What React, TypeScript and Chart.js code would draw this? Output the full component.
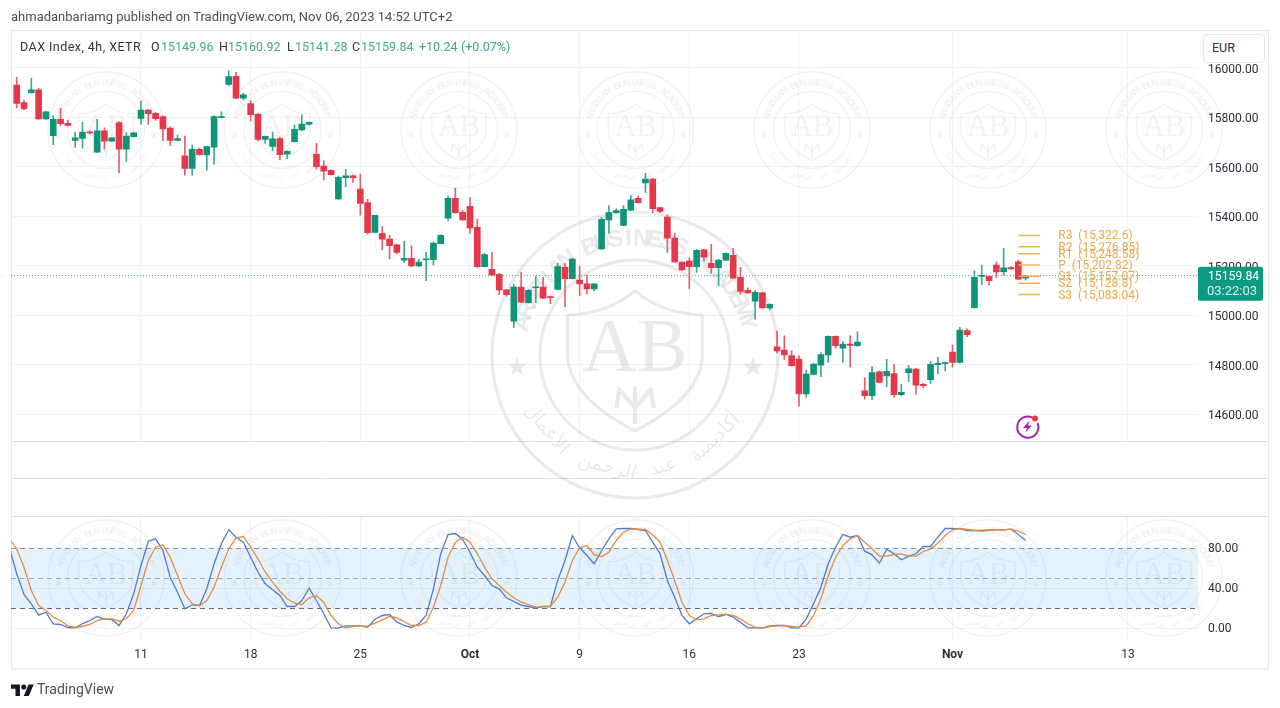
import React, { useEffect, useRef } from "react";
import { Chart, registerables } from "chart.js";

Chart.register(...registerables);

const opens = [15931,15860,15900,15912,15794,15726,15792,15776,15707,15715,15742,15659,15746,15704,15779,15672,15722,15796,15830,15817,15803,15757,15707,15645,15594,15671,15648,15680,15799,15934,15966,15878,15856,15812,15711,15683,15714,15651,15702,15749,15773,15651,15603,15586,15470,15556,15564,15510,15455,15335,15330,15308,15284,15222,15230,15199,15224,15224,15289,15392,15473,15416,15440,15355,15196,15185,15165,15102,14976,15114,15050,15111,15114,15073,15104,15193,15148,15142,15127,15106,15268,15385,15415,15363,15425,15473,15535,15551,15435,15397,15312,15215,15219,15196,15264,15210,15192,15222,15242,15153,15100,15057,15090,15029,14872,14859,14836,14822,14681,14760,14798,14839,14914,14866,14883,14876,14694,14674,14771,14754,14764,14678,14767,14782,14720,14739,14800,14804,14851,14809,14938,15030,15157,15157,15203,15176,15192,15216,15149.96];
const highs = [15962,15870,15958,15918,15825,15806,15837,15789,15740,15780,15746,15792,15758,15719,15783,15738,15740,15866,15833,15821,15806,15763,15729,15725,15688,15676,15684,15806,15823,15988,15982,15897,15868,15816,15725,15741,15719,15665,15769,15810,15781,15695,15624,15588,15563,15590,15568,15571,15469,15405,15358,15323,15287,15299,15280,15226,15254,15296,15325,15482,15514,15423,15475,15389,15250,15254,15169,15104,15125,15173,15104,15158,15153,15077,15210,15210,15230,15197,15162,15128,15396,15443,15430,15443,15485,15482,15574,15554,15436,15405,15331,15216,15232,15266,15266,15287,15226,15251,15269,15193,15111,15099,15092,15046,14936,14916,14856,14836,14778,14804,14849,14916,14916,14893,14916,14932,14747,14792,14775,14821,14801,14720,14797,14784,14724,14812,14829,14810,14879,14951,14945,15179,15203,15158,15216,15270,15196,15223,15160.92];
const lows = [15839,15830,15898,15792,15792,15690,15767,15765,15679,15676,15733,15657,15673,15702,15576,15622,15720,15772,15772,15788,15707,15686,15705,15566,15566,15647,15587,15611,15798,15927,15876,15872,15785,15706,15695,15664,15629,15633,15700,15746,15768,15591,15547,15566,15468,15520,15537,15405,15328,15333,15264,15227,15249,15212,15196,15196,15139,15203,15288,15382,15413,15384,15331,15193,15195,15160,15083,15077,14949,15050,15048,15050,15067,15046,15102,15034,15147,15079,15086,15098,15266,15332,15413,15362,15423,15453,15496,15415,15415,15254,15213,15181,15106,15173,15218,15170,15118,15220,15149,15084,15088,14984,15028,15021,14847,14821,14794,14632,14667,14758,14751,14809,14866,14810,14791,14874,14660,14658,14726,14711,14667,14674,14731,14680,14706,14724,14763,14774,14789,14807,14913,15028,15123,15123,15152,15162,15185,15144,15141.28];
const closes = [15857,15835,15912,15794,15823,15792,15775,15768,15717,15741,15737,15746,15704,15717,15672,15725,15738,15830,15815,15795,15753,15707,15714,15594,15671,15649,15682,15803,15802,15965,15878,15891,15811,15711,15723,15713,15649,15663,15752,15773,15780,15601,15583,15568,15558,15564,15556,15452,15334,15404,15307,15281,15254,15230,15199,15215,15227,15292,15323,15473,15415,15385,15353,15196,15245,15162,15102,15083,15114,15052,15100,15113,15069,15071,15196,15148,15227,15126,15106,15127,15388,15415,15423,15428,15467,15455,15551,15431,15420,15311,15215,15183,15196,15262,15235,15192,15222,15250,15150,15096,15090,15092,15029,15044,14855,14839,14796,14681,14762,14802,14840,14914,14876,14883,14878,14891,14674,14768,14728,14773,14678,14688,14783,14717,14715,14801,14805,14808,14809,14940,14921,15153,15158,15139,15175,15191,15187,15146,15159.84];

// Stochastic RSI, one value per bar; the first value belongs to the bar before the first candle.
const stochK = [81,54.7,34,24.7,13.3,16.3,4.7,4,1,0.7,4.7,8,12,9.3,9,3,14.7,34.7,63,87.3,89.7,78,51.3,36.3,19.7,23.7,23,39.7,64.7,84.7,98.7,91.3,86.3,71.3,56.3,44.7,38.7,33,22,22,28,40.3,28,14.7,0.7,0.3,2.7,2.7,2.7,1.3,9.3,13,14,6.3,3,1,4.7,13,39.7,74.7,94,95,89,76.3,61.3,53,43,39.7,30.7,27,23.3,22,20.7,22,22,48,68,93,80.7,73,64.7,78,89.7,99.7,100,100,99,98,86.3,74.7,48,31.3,13,4.7,9.7,14.7,15,12,14,11.3,6.3,0.7,0.7,0.3,2.7,3,3,0.7,0.7,9.7,24.7,41.3,64.7,81.3,94,91.3,93,77.3,73.7,65.3,79.3,74.7,68.7,72.3,74.7,82,82,91.3,100,100,99.7,98,98,98,98.7,98.7,98.7,99.3,94,88];
const stochD = [89.7,79.7,61.3,38,23,18,11.3,8,2.7,1,2,4,8,9.7,9.7,7.3,9.7,18,43,68,81.3,83.7,71.3,53,34.7,24.7,22.7,28,41.3,61.3,79.7,90.3,92,81.3,69.7,56.3,46.3,37.3,29.7,25.3,24,30.7,32.7,26.3,13,4.7,0.7,2,2.7,2.3,5.3,8.7,12,10.7,7,3,3,6.3,21.3,43,71.3,86.3,91.3,86.3,74.7,61.3,49.7,43,36.3,30.7,26.3,24,21.3,22,22,31.3,46.3,68,80.7,83,73.7,72,76.3,88,96.3,99.7,99.3,99,93.7,86.3,68,48,26.3,13,8.7,9.7,13,13.7,14.3,13,9.7,4.7,1.3,0.3,2,2.7,3,2,1.3,2.7,13,29.7,52.7,71,83,89.7,93,86.3,79.7,72.3,72.3,74,74.7,72.3,72.3,77,79.7,85.3,93,98.7,100,99,98,97.3,98,98.7,98.7,99.3,97.3,94];

const dateTickBars = [17, 32, 47, 62, 77, 92, 107, 128, 152];
const dateTickLabels = ["11", "18", "25", "Oct", "9", "16", "23", "Nov", "13"];
const boldTicks = ["Oct", "Nov"];
const priceTicks = [16000, 15800, 15600, 15400, 15200, 15000, 14800, 14600];
const stochTicks = [80, 40, 0];
const bandLevels = [80, 50, 20];

const pivotNames = ["R3", "R2", "R1", "P", "S1", "S2", "S3"];
const pivotValues = [15322.6, 15276.85, 15248.58, 15202.82, 15157.07, 15128.8, 15083.04];
const pivotTexts = ["15,322.6", "15,276.85", "15,248.58", "15,202.82", "15,157.07", "15,128.8", "15,083.04"];

const lastPrice = 15159.84;
const countdown = "03:22:03";
const headline = "ahmadanbariamg published on TradingView.com, Nov 06, 2023 14:52 UTC+2";
const symbolName = "DAX Index, 4h, XETR";
const legendParts: [string, number, boolean][] = [
  ["O", 151, false], ["15149.96", 161, true],
  ["H", 219, false], ["15160.92", 228, true],
  ["L", 287, false], ["15141.28", 295, true],
  ["C", 352, false], ["15159.84", 361, true],
  ["+10.24", 419, true], ["(+0.07%)", 461, true],
];

const FONT = 'Roboto, "Open Sans", sans-serif';
const UP = "#0f9379";
const DOWN = "#e5384a";
const GRID = "#f1f3f8";
const BORDER = "#e7e9ee";
const X_MIN = -0.78;
const X_MAX = 161.58;

function drawWatermark(ctx: CanvasRenderingContext2D, cx: number, cy: number, R: number, color: string) {
  ctx.save();
  ctx.translate(cx, cy);
  ctx.strokeStyle = color;
  ctx.fillStyle = color;
  ctx.lineJoin = "round";
  ctx.lineWidth = Math.max(1, R * 0.022);
  ctx.beginPath();
  ctx.arc(0, 0, R, 0, Math.PI * 2);
  ctx.stroke();
  ctx.beginPath();
  ctx.arc(0, 0, R * 0.665, 0, Math.PI * 2);
  ctx.stroke();

  ctx.beginPath();
  ctx.moveTo(0, -0.45 * R);
  ctx.quadraticCurveTo(0.18 * R, -0.29 * R, 0.47 * R, -0.28 * R);
  ctx.lineTo(0.47 * R, 0.02 * R);
  ctx.quadraticCurveTo(0.45 * R, 0.3 * R, 0, 0.53 * R);
  ctx.quadraticCurveTo(-0.45 * R, 0.3 * R, -0.47 * R, 0.02 * R);
  ctx.lineTo(-0.47 * R, -0.28 * R);
  ctx.quadraticCurveTo(-0.18 * R, -0.29 * R, 0, -0.45 * R);
  ctx.closePath();
  ctx.stroke();

  ctx.textAlign = "center";
  ctx.textBaseline = "middle";
  ctx.font = `${R * 0.53}px "Liberation Serif", serif`;
  ctx.fillText("AB", 0, -0.03 * R);

  ctx.lineWidth = Math.max(1, R * 0.03);
  ctx.beginPath();
  ctx.moveTo(-0.13 * R, 0.37 * R);
  ctx.lineTo(-0.11 * R, 0.24 * R);
  ctx.lineTo(0, 0.37 * R);
  ctx.lineTo(0.11 * R, 0.24 * R);
  ctx.lineTo(0.13 * R, 0.37 * R);
  ctx.moveTo(0, 0.22 * R);
  ctx.lineTo(0, 0.48 * R);
  ctx.stroke();

  [-1, 1].forEach((side) => {
    const sx = side * 0.825 * R;
    const sy = 0.085 * R;
    const o = 0.07 * R;
    ctx.beginPath();
    for (let i = 0; i < 10; i++) {
      const a = -Math.PI / 2 + (i * Math.PI) / 5;
      const rr = i % 2 === 0 ? o : o * 0.42;
      ctx.lineTo(sx + rr * Math.cos(a), sy + rr * Math.sin(a));
    }
    ctx.closePath();
    ctx.fill();
  });

  const title = "ARABIAN BUSINESS ACADEMY";
  ctx.font = `bold ${R * 0.165}px "Liberation Sans", sans-serif`;
  const a0 = (-164 * Math.PI) / 180;
  const a1 = (-16 * Math.PI) / 180;
  for (let i = 0; i < title.length; i++) {
    const a = a0 + ((a1 - a0) * i) / (title.length - 1);
    ctx.save();
    ctx.translate(0.815 * R * Math.cos(a), 0.815 * R * Math.sin(a));
    ctx.rotate(a + Math.PI / 2);
    ctx.fillText(title[i], 0, 0);
    ctx.restore();
  }

  const arabic: [string, number][] = [
    ["أكاديمية", 46],
    ["عبد", 76],
    ["الرحمن", 104],
    ["الأعمال", 140],
  ];
  ctx.font = `${R * 0.135}px "DejaVu Sans", sans-serif`;
  arabic.forEach(([word, deg]) => {
    const a = (deg * Math.PI) / 180;
    ctx.save();
    ctx.translate(0.81 * R * Math.cos(a), 0.81 * R * Math.sin(a));
    ctx.rotate(a - Math.PI / 2);
    ctx.fillText(word, 0, 0);
    ctx.restore();
  });
  ctx.restore();
}

const chromePlugin = {
  id: "chrome",
  beforeDatasetsDraw(chart: any) {
    const ctx: CanvasRenderingContext2D = chart.ctx;
    const y = chart.scales.y;
    const gap = chart.scales.gap;
    const y2 = chart.scales.y2;
    const area = chart.chartArea;
    ctx.save();
    ctx.fillStyle = "#ffffff";
    ctx.fillRect(area.left, y.bottom + 0.5, area.right - area.left, y2.top - y.bottom - 1);
    ctx.strokeStyle = "#e0e2e7";
    ctx.lineWidth = 1;
    [y.bottom, (gap.top + gap.bottom) / 2, y2.top].forEach((py) => {
      const p = Math.round(py) + 0.5;
      ctx.beginPath();
      ctx.moveTo(11, p);
      ctx.lineTo(1268, p);
      ctx.stroke();
    });
    ctx.strokeStyle = BORDER;
    ctx.strokeRect(11.5, 30.5, 1257, 638.5);
    ctx.restore();

    const xs = [106, 282.5, 459, 635.5, 812, 988, 1164];
    xs.forEach((cx) => {
      drawWatermark(ctx, cx, 130, 58, "rgba(110,110,115,0.09)");
      drawWatermark(ctx, cx, 578, 58, "rgba(110,110,115,0.09)");
    });
    drawWatermark(ctx, 635, 355, 143, "rgba(110,110,115,0.15)");
  },
  afterDatasetsDraw(chart: any) {
    const ctx: CanvasRenderingContext2D = chart.ctx;
    const x = chart.scales.x;
    const y = chart.scales.y;
    ctx.save();
    ctx.font = `12px ${FONT}`;
    ctx.fillStyle = "#e8a94e";
    ctx.textAlign = "left";
    ctx.textBaseline = "middle";
    const left = x.getPixelForValue(140) + 18;
    pivotNames.forEach((name, i) => {
      ctx.fillText(`${name}  (${pivotTexts[i]})`, left, y.getPixelForValue(pivotValues[i]) + 1);
    });

    const py = y.getPixelForValue(lastPrice);
    const boxTop = py - 9;
    ctx.fillStyle = "#0c9a80";
    ctx.beginPath();
    ctx.roundRect(1198, boxTop, 65, 34, 2);
    ctx.fill();
    ctx.fillStyle = "#ffffff";
    ctx.font = `12.2px ${FONT}`;
    ctx.fillText(lastPrice.toFixed(2), 1208, boxTop + 10);
    ctx.fillStyle = "#d6f1ea";
    ctx.font = `13px ${FONT}`;
    ctx.fillText(countdown, 1207, boxTop + 25.5);
    ctx.restore();
  },
};

export default function App() {
  const ref = useRef<HTMLCanvasElement>(null);

  useEffect(() => {
    const bars = opens.map((_, i) => i);
    const colors = opens.map((o, i) => (closes[i] >= o ? UP : DOWN));
    const wickColors = opens.map((o, i) => (closes[i] >= o ? "#3fa793" : "#e2606e"));
    const levelLine = (value: number) => [
      { x: X_MIN, y: value },
      { x: X_MAX, y: value },
    ];
    const chart = new Chart(ref.current!, {
      type: "bar",
      data: {
        datasets: [
          {
            type: "line",
            data: levelLine(bandLevels[0]),
            yAxisID: "y2",
            borderColor: "#8f929b",
            borderWidth: 1,
            borderDash: [5, 4],
            pointRadius: 0,
            backgroundColor: "rgba(33,150,243,0.12)",
            fill: { target: { value: bandLevels[2] } },
            order: 6,
          },
          {
            type: "line",
            data: levelLine(bandLevels[1]),
            yAxisID: "y2",
            borderColor: "#a9acb3",
            borderWidth: 1,
            borderDash: [5, 4],
            pointRadius: 0,
            order: 6,
          },
          {
            type: "line",
            data: levelLine(bandLevels[2]),
            yAxisID: "y2",
            borderColor: "#666975",
            borderWidth: 1,
            borderDash: [5, 4],
            pointRadius: 0,
            order: 6,
          },
          {
            type: "line",
            data: stochK.map((v, i) => ({ x: i - 1, y: v })),
            yAxisID: "y2",
            borderColor: "#4d7ccf",
            borderWidth: 1.3,
            pointRadius: 0,
            order: 2,
          },
          {
            type: "line",
            data: stochD.map((v, i) => ({ x: i - 1, y: v })),
            yAxisID: "y2",
            borderColor: "#e78c3f",
            borderWidth: 1.3,
            pointRadius: 0,
            order: 1,
          },
          {
            type: "line",
            data: levelLine(lastPrice),
            yAxisID: "y",
            borderColor: "#1fb096",
            borderWidth: 1,
            borderDash: [1, 2],
            pointRadius: 0,
            order: 5,
          },
          ...pivotValues.map((v) => ({
            type: "line" as const,
            data: [
              { x: 137, y: v },
              { x: 140, y: v },
            ],
            yAxisID: "y",
            borderColor: "#f4b05a",
            borderWidth: 1.5,
            pointRadius: 0,
            order: 1,
          })),
          {
            type: "bar",
            data: bars.map((i) => ({ x: i, y: [lows[i], highs[i]] })),
            yAxisID: "y",
            backgroundColor: wickColors,
            barThickness: 1,
            grouped: false,
            order: 4,
          },
          {
            type: "bar",
            data: bars.map((i) => ({ x: i, y: [opens[i], closes[i]] })),
            yAxisID: "y",
            backgroundColor: colors,
            barThickness: 6,
            minBarLength: 1,
            grouped: false,
            order: 3,
          },
        ] as any,
      },
      options: {
        responsive: false,
        animation: false,
        devicePixelRatio: 1,
        events: [],
        layout: { padding: { left: 11, top: 30, right: 0, bottom: 0 } },
        plugins: { legend: { display: false }, tooltip: { enabled: false }, title: { display: false } },
        scales: {
          x: {
            type: "linear",
            min: X_MIN,
            max: X_MAX,
            offset: false,
            position: "bottom",
            border: { display: false },
            grid: { color: GRID, offset: false, drawTicks: false },
            afterBuildTicks: (s: any) => {
              s.ticks = dateTickBars.map((value) => ({ value }));
            },
            afterFit: (s: any) => {
              s.height = 68;
            },
            ticks: {
              autoSkip: false,
              maxRotation: 0,
              padding: 8,
              color: "#2a2e39",
              font: (c: any) => ({
                family: FONT,
                size: 12,
                weight: boldTicks.includes(dateTickLabels[dateTickBars.indexOf(c.tick?.value)]) ? "bold" : "normal",
              }),
              callback: (v: any) => dateTickLabels[dateTickBars.indexOf(v)],
            },
          },
          y: {
            type: "linear",
            position: "right",
            stack: "panes",
            stackWeight: 410.7,
            weight: 1,
            min: 14492,
            max: 16153.7,
            beginAtZero: false,
            border: { display: false },
            grid: { color: GRID, drawTicks: false },
            afterBuildTicks: (s: any) => {
              s.ticks = priceTicks.map((value) => ({ value }));
            },
            afterFit: (s: any) => {
              s.width = 82;
            },
            ticks: {
              padding: 10,
              labelOffset: 2,
              crossAlign: "near",
              autoSkip: false,
              color: "#2a2e39",
              font: { family: FONT, size: 12 },
              callback: (v: any) => Number(v).toFixed(2),
            },
          },
          gap: {
            type: "linear",
            position: "right",
            stack: "panes",
            stackWeight: 75,
            weight: 2,
            min: 0,
            max: 1,
            border: { display: false },
            grid: { display: false, drawTicks: false },
            ticks: { display: false },
            afterFit: (s: any) => {
              s.width = 82;
            },
          },
          y2: {
            type: "linear",
            position: "right",
            stack: "panes",
            stackWeight: 124.3,
            weight: 3,
            min: -11.5,
            max: 112.8,
            border: { display: false },
            grid: { color: GRID, drawTicks: false },
            afterBuildTicks: (s: any) => {
              s.ticks = stochTicks.map((value) => ({ value }));
            },
            afterFit: (s: any) => {
              s.width = 82;
            },
            ticks: {
              padding: 10,
              labelOffset: 0.5,
              crossAlign: "near",
              autoSkip: false,
              color: "#2a2e39",
              font: { family: FONT, size: 12 },
              callback: (v: any) => Number(v).toFixed(2),
            },
          },
        },
      } as any,
      plugins: [chromePlugin],
    });
    return () => chart.destroy();
  }, []);

  const text = (left: number, top: number, color: string, size = 12.5, spacing = 0): React.CSSProperties => ({
    position: "absolute",
    left,
    top,
    color,
    fontSize: size,
    fontFamily: FONT,
    lineHeight: "16px",
    letterSpacing: spacing,
    whiteSpace: "pre",
  });

  return (
    <div style={{ position: "absolute", left: 0, top: 0, width: 1280, height: 708, overflow: "hidden", background: "#fff" }}>
      <canvas ref={ref} width={1280} height={708} style={{ position: "absolute", left: 0, top: 0, width: 1280, height: 708 }} />
      <div style={text(11, 9, "#4a4e5a", 13)}>{headline}</div>
      <div style={text(20, 39, "#2f333e", 12.5, 0.45)}>{symbolName}</div>
      {legendParts.map(([t, x, isValue]) => (
        <div key={t + x} style={text(x, 39, isValue ? "#3fa596" : "#2f333e", 12.5)}>
          {t}
        </div>
      ))}
      <div
        style={{
          position: "absolute",
          left: 1203,
          top: 34,
          width: 60,
          height: 27,
          background: "#fff",
          border: "1px solid #e7e9ee",
          borderRadius: 4,
        }}
      />
      <div style={text(1212, 40, "#2f333e", 12.5)}>EUR</div>
      <svg style={{ position: "absolute", left: 11, top: 683 }} width={23} height={13} viewBox="0 0 36 20">
        <path d="M14 20H7V9H0V2h14v18zM28 20h-8l7.5-18h8L28 20z" fill="#131722" />
        <circle cx="20" cy="6" r="4" fill="#131722" />
      </svg>
      <div style={text(37, 681, "#4a4e5a", 14)}>TradingView</div>
      <svg style={{ position: "absolute", left: 1014, top: 413 }} width={27} height={27} viewBox="0 0 27 27">
        <path d="M18.5 4.6A10.6 10.6 0 1 0 23.6 10" fill="none" stroke="#9c27b0" strokeWidth={2} />
        <path d="M15.5 7.5 9 15h4l-1.500 4.500L18 12.500h-4z" fill="#9c27b0" />
        <circle cx="21" cy="5.500" r="3" fill="#e53935" />
      </svg>
    </div>
  );
}
